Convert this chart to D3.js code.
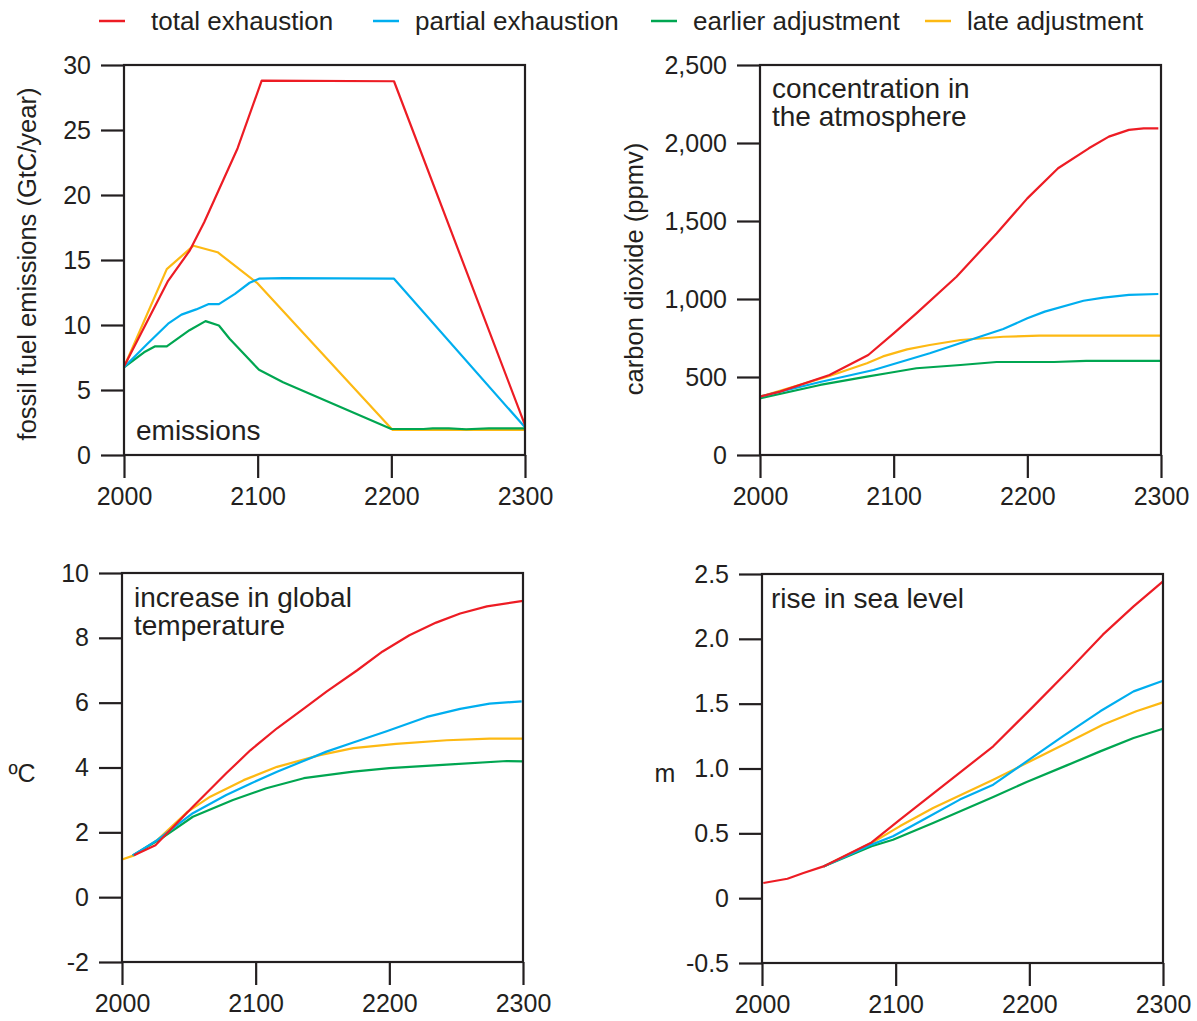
<!DOCTYPE html>
<html>
<head>
<meta charset="utf-8">
<script src="https://cdn.jsdelivr.net/npm/d3@7"></script>
<style>
  html, body { margin: 0; padding: 0; background: #ffffff; }
  svg { display: block; font-family: "Liberation Sans", Arial, Helvetica, sans-serif; }
</style>
</head>
<body>
<svg id="chart" width="1197" height="1021"></svg>
<script>
// ---------------- DATA ----------------
const seriesNames = ["total exhaustion", "partial exhaustion", "earlier adjustment", "late adjustment"];
const seriesColors = ["#ed1c24", "#00aeef", "#00a651", "#fdb913"];
const xTickValues = [2000, 2100, 2200, 2300];

// Panel 1: fossil fuel emissions (GtC/year)
const emisTicks = [0, 5, 10, 15, 20, 25, 30];
const emisTotal   = [[2000,6.8],[2033,13.4],[2049,15.7],[2060,17.9],[2085,23.6],[2103,28.8],[2202,28.75],[2300,2.3]];
const emisPartial = [[2000,6.75],[2017,8.5],[2033,10.1],[2043,10.8],[2054,11.2],[2063,11.6],[2071,11.6],[2083,12.4],[2094,13.25],[2101,13.56],[2119,13.6],[2202,13.56],[2300,2.13]];
const emisEarlier = [[2000,6.75],[2015,7.9],[2023,8.35],[2032,8.35],[2049,9.6],[2061,10.3],[2071,9.96],[2079,8.94],[2101,6.55],[2119,5.6],[2200,2.0],[2224,2.0],[2231,2.05],[2243,2.05],[2256,1.98],[2273,2.05],[2300,2.05]];
const emisLate    = [[2000,6.75],[2032,14.3],[2052,16.1],[2070,15.6],[2100,13.2],[2201,1.93],[2300,1.93]];

// Panel 2: carbon dioxide (ppmv)
const co2Ticks = [0, 500, 1000, 1500, 2000, 2500];
const co2Total   = [[2000,374],[2015,406],[2052,513],[2081,641],[2100,780],[2117,908],[2147,1143],[2177,1420],[2200,1645],[2223,1838],[2246,1966],[2261,2041],[2276,2084],[2287,2094],[2298,2094]];
const co2Partial = [[2000,374],[2045,468],[2085,545],[2127,652],[2157,737],[2182,808],[2200,876],[2213,919],[2242,989],[2257,1009],[2276,1026],[2298,1032]];
const co2Earlier = [[2000,363],[2045,449],[2080,502],[2095,524],[2117,556],[2150,577],[2177,596],[2220,596],[2244,603],[2300,603]];
const co2Late    = [[2000,374],[2052,506],[2080,588],[2092,632],[2110,677],[2127,705],[2150,737],[2182,758],[2209,765],[2300,765]];

// Panel 3: increase in global temperature (°C)
const tempTicks = [-2, 0, 2, 4, 6, 8, 10];
const tempTotal   = [[2009,1.29],[2025,1.6],[2053,2.79],[2078,3.82],[2096,4.53],[2116,5.21],[2138,5.88],[2153,6.34],[2176,7.0],[2195,7.58],[2215,8.08],[2235,8.47],[2253,8.75],[2273,8.97],[2300,9.14]];
const tempPartial = [[2008,1.29],[2026,1.75],[2053,2.59],[2078,3.15],[2096,3.5],[2116,3.87],[2153,4.49],[2173,4.77],[2198,5.12],[2228,5.56],[2253,5.81],[2275,5.97],[2299,6.04]];
const tempEarlier = [[2008,1.29],[2029,1.8],[2053,2.48],[2083,3.0],[2108,3.36],[2136,3.67],[2173,3.87],[2200,3.98],[2243,4.09],[2288,4.2],[2300,4.19]];
const tempLate    = [[2000,1.16],[2009,1.29],[2026,1.75],[2049,2.63],[2066,3.1],[2091,3.61],[2116,4.02],[2148,4.38],[2173,4.6],[2205,4.73],[2243,4.84],[2275,4.89],[2300,4.89]];

// Panel 4: rise in sea level (m)
const seaTicks = [-0.5, 0, 0.5, 1.0, 1.5, 2.0, 2.5];
const seaTotal   = [[2001,0.117],[2019,0.15],[2031,0.194],[2046,0.245],[2082,0.43],[2103,0.603],[2128,0.806],[2148,0.968],[2173,1.171],[2203,1.479],[2230,1.762],[2255,2.032],[2278,2.25],[2300,2.443]];
const seaPartial = [[2046,0.245],[2082,0.413],[2098,0.477],[2123,0.618],[2148,0.76],[2173,0.875],[2198,1.055],[2225,1.248],[2253,1.441],[2278,1.595],[2300,1.677]];
const seaEarlier = [[2046,0.245],[2082,0.4],[2098,0.451],[2128,0.58],[2173,0.78],[2198,0.896],[2228,1.024],[2253,1.132],[2278,1.235],[2300,1.307]];
const seaLate    = [[2046,0.245],[2082,0.425],[2103,0.554],[2128,0.695],[2173,0.914],[2198,1.042],[2228,1.197],[2255,1.338],[2280,1.441],[2300,1.51]];

// ---------------- DRAWING ----------------
const ink = "#231f20";
const svg = d3.select("#chart");
const hyphen = f => (d => f(d).replace("\u2212", "-"));

const panels = [
  { x0: 124, x1: 525, y0: 65, y1: 455, domain: [0, 30], ticks: emisTicks, fmt: hyphen(d3.format("d")),
    series: [emisTotal, emisPartial, emisEarlier, emisLate],
    title: ["emissions"], titlePos: [136, 440],
    ylabel: "fossil fuel emissions (GtC/year)", ylabelRot: true, ylabelPos: [27, 264] },
  { x0: 760, x1: 1161, y0: 65, y1: 455, domain: [0, 2500], ticks: co2Ticks, fmt: hyphen(d3.format(",")),
    series: [co2Total, co2Partial, co2Earlier, co2Late],
    title: ["concentration in", "the atmosphere"], titlePos: [772, 98],
    ylabel: "carbon dioxide (ppmv)", ylabelRot: true, ylabelPos: [634, 269] },
  { x0: 122, x1: 523, y0: 573, y1: 962, domain: [-2, 10], ticks: tempTicks, fmt: hyphen(d3.format("d")),
    series: [tempTotal, tempPartial, tempEarlier, tempLate],
    title: ["increase in global", "temperature"], titlePos: [134, 607],
    ylabel: "ºC", ylabelRot: false, ylabelPos: [22, 773] },
  { x0: 762, x1: 1163, y0: 574, y1: 963, domain: [-0.5, 2.5], ticks: seaTicks,
    fmt: d => (d === 0 ? "0" : d3.format(".1f")(d).replace("\u2212", "-")),
    series: [seaTotal, seaPartial, seaEarlier, seaLate],
    title: ["rise in sea level"], titlePos: [771, 608],
    ylabel: "m", ylabelRot: false, ylabelPos: [665, 773] }
];

const drawOrder = [3, 2, 1, 0]; // late, earlier, partial, total (total on top)

panels.forEach(p => {
  const x = d3.scaleLinear().domain([2000, 2300]).range([p.x0, p.x1]);
  const y = d3.scaleLinear().domain(p.domain).range([p.y1, p.y0]);
  const g = svg.append("g");

  // lines
  const line = d3.line().x(d => x(d[0])).y(d => y(d[1]));
  drawOrder.forEach(i => {
    g.append("path")
      .datum(p.series[i])
      .attr("d", line)
      .attr("fill", "none")
      .attr("stroke", seriesColors[i])
      .attr("stroke-width", 2.2)
      .attr("stroke-linejoin", "round");
  });

  // frame
  g.append("rect")
    .attr("x", p.x0).attr("y", p.y0)
    .attr("width", p.x1 - p.x0).attr("height", p.y1 - p.y0)
    .attr("fill", "none").attr("stroke", ink).attr("stroke-width", 2.2);

  // y axis
  const ya = g.append("g").attr("transform", `translate(${p.x0},0)`)
    .call(d3.axisLeft(y).tickValues(p.ticks).tickFormat(p.fmt).tickSize(23).tickPadding(10));
  ya.select(".domain").remove();
  ya.selectAll(".tick line").attr("stroke", ink).attr("stroke-width", 2.2);
  ya.selectAll(".tick text").attr("fill", ink).attr("font-size", 25)
    .attr("font-family", "'Liberation Sans', Arial, sans-serif");

  // x axis
  const xa = g.append("g").attr("transform", `translate(0,${p.y1})`)
    .call(d3.axisBottom(x).tickValues(xTickValues).tickFormat(d3.format("d")).tickSize(23).tickPadding(9));
  xa.select(".domain").remove();
  xa.selectAll(".tick line").attr("stroke", ink).attr("stroke-width", 2.2);
  xa.selectAll(".tick text").attr("fill", ink).attr("font-size", 25)
    .attr("font-family", "'Liberation Sans', Arial, sans-serif");

  // title
  const t = g.append("text").attr("x", p.titlePos[0]).attr("y", p.titlePos[1])
    .attr("fill", ink).attr("font-size", 28);
  p.title.forEach((s, k) => {
    t.append("tspan").attr("x", p.titlePos[0]).attr("dy", k === 0 ? 0 : 28).text(s);
  });

  // y label
  if (p.ylabelRot) {
    g.append("text")
      .attr("transform", `translate(${p.ylabelPos[0]},${p.ylabelPos[1]}) rotate(-90)`)
      .attr("text-anchor", "middle").attr("dy", "0.35em")
      .attr("fill", ink).attr("font-size", 25.5)
      .text(p.ylabel);
  } else {
    g.append("text")
      .attr("x", p.ylabelPos[0]).attr("y", p.ylabelPos[1])
      .attr("text-anchor", "middle").attr("dy", "0.35em")
      .attr("fill", ink).attr("font-size", 25)
      .text(p.ylabel);
  }
});

// legend
const legendX = [99, 373, 651, 925];
const legendTextX = [151, 415, 693, 967];
const lg = svg.append("g");
seriesNames.forEach((name, i) => {
  lg.append("line")
    .attr("x1", legendX[i]).attr("x2", legendX[i] + 26)
    .attr("y1", 21).attr("y2", 21)
    .attr("stroke", seriesColors[i]).attr("stroke-width", 2.5);
  lg.append("text")
    .attr("x", legendTextX[i]).attr("y", 21).attr("dy", "0.35em")
    .attr("fill", ink).attr("font-size", 26)
    .text(name);
});
</script>
</body>
</html>
